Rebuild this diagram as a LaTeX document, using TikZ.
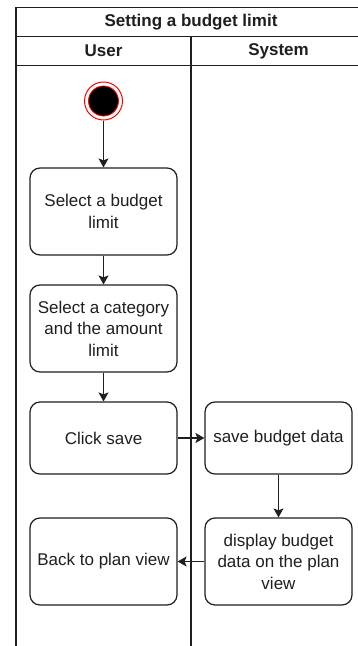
\documentclass[tikz,border=0pt]{standalone}
\usepackage{fontspec}
\setmainfont{Liberation Sans}
\usetikzlibrary{arrows.meta}
\definecolor{ink}{HTML}{1F1F1F}
\begin{document}
\begin{tikzpicture}[x=1pt,y=-1pt,
  lane/.style={draw=ink,line width=1.2pt},
  act/.style={draw=ink,line width=1.2pt,rounded corners=10pt,fill=white,
    minimum width=147pt,align=center,text=ink,inner sep=0pt,
    font=\fontsize{17}{21.5}\selectfont},
  flow/.style={draw=ink,line width=1.2pt,-{Stealth[length=9pt,width=10pt,inset=2pt]}},
  hdr/.style={font=\bfseries\fontsize{17}{21}\selectfont,text=ink}]
\useasboundingbox (0,0) rectangle (358,646);

% swimlane pool (continues past the page edge)
\begin{scope}
  \clip (0,0) rectangle (358,646);
  \fill[white] (0,0) rectangle (358,646);
  \draw[lane] (16,700) -- (16,7.5) -- (366,7.5) -- (366,700);
  \draw[lane] (16,36.5) -- (366,36.5);
  \draw[lane] (16,65.5) -- (366,65.5);
  \draw[lane] (191,36.5) -- (191,700);
\end{scope}

\node[hdr] (title) at (191,22) {Setting a budget limit};
\node[hdr] (user) at (103.5,51) {User};
\node[hdr] (sys) at (278.5,51) {System};

% initial state
\node[circle,draw=red,line width=1pt,fill=white,minimum size=38pt,inner sep=0pt] (start) at (103.5,101) {};
\node[circle,draw=red,line width=0.8pt,fill=black,minimum size=30pt,inner sep=0pt] (startdot) at (start) {};

% activities
\node[act,minimum height=87pt] (b1) at (103.5,211.5) {Select a budget\\limit};
\node[act,minimum height=87pt] (b2) at (103.5,328.5) {Select a category\\and the amount\\limit};
\node[act,minimum height=72pt] (c3) at (103.5,438) {Click save};
\node[act,minimum height=72pt] (s1) at (278.5,438) {save budget data};
\node[act,minimum height=87pt] (s2) at (278.5,561.5) {display budget\\data on the plan\\view};
\node[act,minimum height=87pt] (back) at (103.5,561.5) {Back to plan view};

% control flow
\draw[flow] (start) -- (b1);
\draw[flow] (b1) -- (b2);
\draw[flow] (b2) -- (c3);
\draw[flow] (c3) -- (s1);
\draw[flow] (s1) -- (s2);
\draw[flow] (s2) -- (back);
\end{tikzpicture}
\end{document}
